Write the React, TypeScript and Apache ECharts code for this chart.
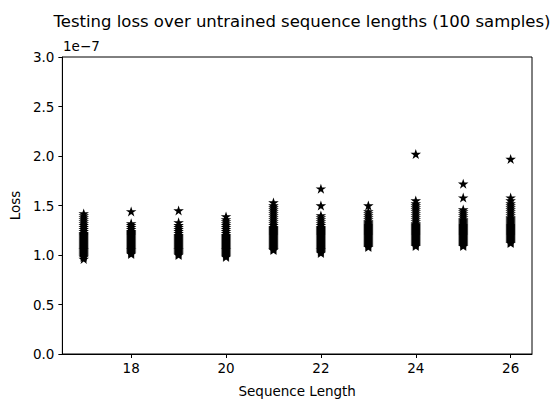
import React, { useEffect, useRef } from "react";
import * as echarts from "echarts";

// Sequence lengths (x categories)
const lengths = [17, 18, 19, 20, 21, 22, 23, 24, 25, 26];

// Testing loss samples, in units of 1e-7
const loss17 = [0.96, 0.98, 0.99, 1.0, 1.01, 1.02, 1.03, 1.04, 1.05, 1.06, 1.07, 1.08, 1.09, 1.1, 1.11, 1.12, 1.13, 1.14, 1.15, 1.16, 1.17, 1.18, 1.19, 1.2, 1.21, 1.22, 1.24, 1.26, 1.28, 1.3, 1.32, 1.34, 1.36, 1.38, 1.4, 1.42];
const loss18 = [1.01, 1.02, 1.03, 1.04, 1.05, 1.06, 1.07, 1.08, 1.09, 1.1, 1.11, 1.12, 1.13, 1.14, 1.15, 1.16, 1.17, 1.18, 1.19, 1.2, 1.21, 1.22, 1.23, 1.24, 1.26, 1.28, 1.3, 1.32, 1.44];
const loss19 = [1.0, 1.01, 1.02, 1.03, 1.04, 1.05, 1.06, 1.07, 1.08, 1.09, 1.1, 1.11, 1.12, 1.13, 1.14, 1.15, 1.16, 1.17, 1.18, 1.19, 1.2, 1.22, 1.24, 1.26, 1.28, 1.3, 1.33, 1.45];
const loss20 = [0.98, 0.99, 1.0, 1.01, 1.02, 1.03, 1.04, 1.05, 1.06, 1.07, 1.08, 1.09, 1.1, 1.11, 1.12, 1.13, 1.14, 1.15, 1.16, 1.17, 1.18, 1.19, 1.2, 1.22, 1.24, 1.26, 1.28, 1.3, 1.32, 1.34, 1.36, 1.39];
const loss21 = [1.05, 1.06, 1.07, 1.08, 1.09, 1.1, 1.11, 1.12, 1.13, 1.14, 1.15, 1.16, 1.17, 1.18, 1.19, 1.2, 1.21, 1.22, 1.23, 1.24, 1.25, 1.26, 1.27, 1.28, 1.3, 1.32, 1.34, 1.36, 1.38, 1.4, 1.42, 1.44, 1.46, 1.48, 1.5, 1.53];
const loss22 = [1.02, 1.03, 1.04, 1.05, 1.06, 1.07, 1.08, 1.09, 1.1, 1.11, 1.12, 1.13, 1.14, 1.15, 1.16, 1.17, 1.18, 1.19, 1.2, 1.21, 1.22, 1.23, 1.24, 1.25, 1.26, 1.27, 1.28, 1.3, 1.32, 1.34, 1.36, 1.38, 1.4, 1.5, 1.67];
const loss23 = [1.08, 1.09, 1.1, 1.11, 1.12, 1.13, 1.14, 1.15, 1.16, 1.17, 1.18, 1.19, 1.2, 1.21, 1.22, 1.23, 1.24, 1.25, 1.26, 1.27, 1.28, 1.29, 1.3, 1.31, 1.32, 1.33, 1.34, 1.36, 1.38, 1.4, 1.42, 1.44, 1.5];
const loss24 = [1.09, 1.1, 1.11, 1.12, 1.13, 1.14, 1.15, 1.16, 1.17, 1.18, 1.19, 1.2, 1.21, 1.22, 1.23, 1.24, 1.25, 1.26, 1.27, 1.28, 1.29, 1.3, 1.31, 1.32, 1.34, 1.36, 1.38, 1.4, 1.42, 1.44, 1.46, 1.48, 1.5, 1.52, 1.55, 2.02];
const loss25 = [1.09, 1.1, 1.11, 1.12, 1.13, 1.14, 1.15, 1.16, 1.17, 1.18, 1.19, 1.2, 1.21, 1.22, 1.23, 1.24, 1.25, 1.26, 1.27, 1.28, 1.29, 1.3, 1.31, 1.32, 1.33, 1.34, 1.35, 1.36, 1.38, 1.4, 1.42, 1.44, 1.46, 1.58, 1.72];
const loss26 = [1.12, 1.13, 1.14, 1.15, 1.16, 1.17, 1.18, 1.19, 1.2, 1.21, 1.22, 1.23, 1.24, 1.25, 1.26, 1.27, 1.28, 1.29, 1.3, 1.31, 1.32, 1.33, 1.34, 1.35, 1.36, 1.37, 1.38, 1.4, 1.42, 1.44, 1.46, 1.48, 1.5, 1.52, 1.55, 1.58, 1.97];

const lossByLength = [loss17, loss18, loss19, loss20, loss21, loss22, loss23, loss24, loss25, loss26];

const xTicks = [18, 20, 22, 24, 26];
const yTicks = [0, 0.5, 1, 1.5, 2, 2.5, 3];

const STAR =
  "path://M0,-100 L22.45,-30.9 L95.1,-30.9 L36.3,11.8 L58.8,80.9 L0,38.2 L-58.8,80.9 L-36.3,11.8 L-95.1,-30.9 L-22.45,-30.9 Z";

const FONT = "DejaVu Sans";

export default function App() {
  const ref = useRef<HTMLDivElement>(null);
  useEffect(() => {
    document.body.style.margin = "0";
    if (!ref.current) return;
    const chart = echarts.init(ref.current, undefined, { renderer: "svg" });
    const points: number[][] = [];
    lengths.forEach((len, i) => {
      lossByLength[i].forEach((v) => points.push([len, v]));
    });
    chart.setOption({
      animation: false,
      backgroundColor: "#ffffff",
      title: {
        text: "Testing loss over untrained sequence lengths (100 samples)",
        left: 297,
        textAlign: "center",
        top: 8,
        textStyle: { fontFamily: FONT, fontSize: 16.5, fontWeight: "normal", color: "#000" },
      },
      grid: {
        left: 62,
        top: 57,
        width: 470,
        height: 303,
        show: true,
        borderColor: "#000",
        borderWidth: 1,
        backgroundColor: "transparent",
      },
      xAxis: {
        type: "value",
        min: 16.55,
        max: 26.45,
        name: "Sequence Length",
        nameLocation: "middle",
        nameGap: 30,
        nameTextStyle: { fontFamily: FONT, fontSize: 13.5, color: "#000" },
        axisLine: { show: true, onZero: false, lineStyle: { color: "#000", width: 1 } },
        axisTick: { show: true, inside: false, length: 4, customValues: xTicks, lineStyle: { color: "#000" } },
        axisLabel: {
          customValues: xTicks,
          margin: 7,
          fontFamily: FONT,
          fontSize: 13.5,
          color: "#000",
          formatter: (v: number) => String(v),
        },
        splitLine: { show: false },
      },
      yAxis: {
        type: "value",
        min: 0,
        max: 3,
        interval: 0.5,
        name: "Loss",
        nameLocation: "middle",
        nameGap: 37,
        nameRotate: 90,
        nameTextStyle: { fontFamily: FONT, fontSize: 13.5, color: "#000" },
        axisLine: { show: true, lineStyle: { color: "#000", width: 1 } },
        axisTick: { show: true, inside: false, length: 4, lineStyle: { color: "#000" } },
        axisLabel: {
          margin: 8,
          fontFamily: FONT,
          fontSize: 13.5,
          color: "#000",
          formatter: (v: number) => (yTicks.includes(v) ? v.toFixed(1) : ""),
        },
        splitLine: { show: false },
      },
      graphic: [
        {
          type: "text",
          left: 63,
          top: 39,
          style: { text: "1e\u22127", fontFamily: FONT, fontSize: 13.5, fill: "#000" },
        },
      ],
      series: [
        {
          type: "scatter",
          data: points,
          symbol: STAR,
          symbolSize: [10.5, 10],
          itemStyle: { color: "#000", opacity: 1 },
          emphasis: { disabled: true },
        },
      ],
    });
    return () => chart.dispose();
  }, []);
  return <div ref={ref} style={{ width: 554, height: 403 }} />;
}
